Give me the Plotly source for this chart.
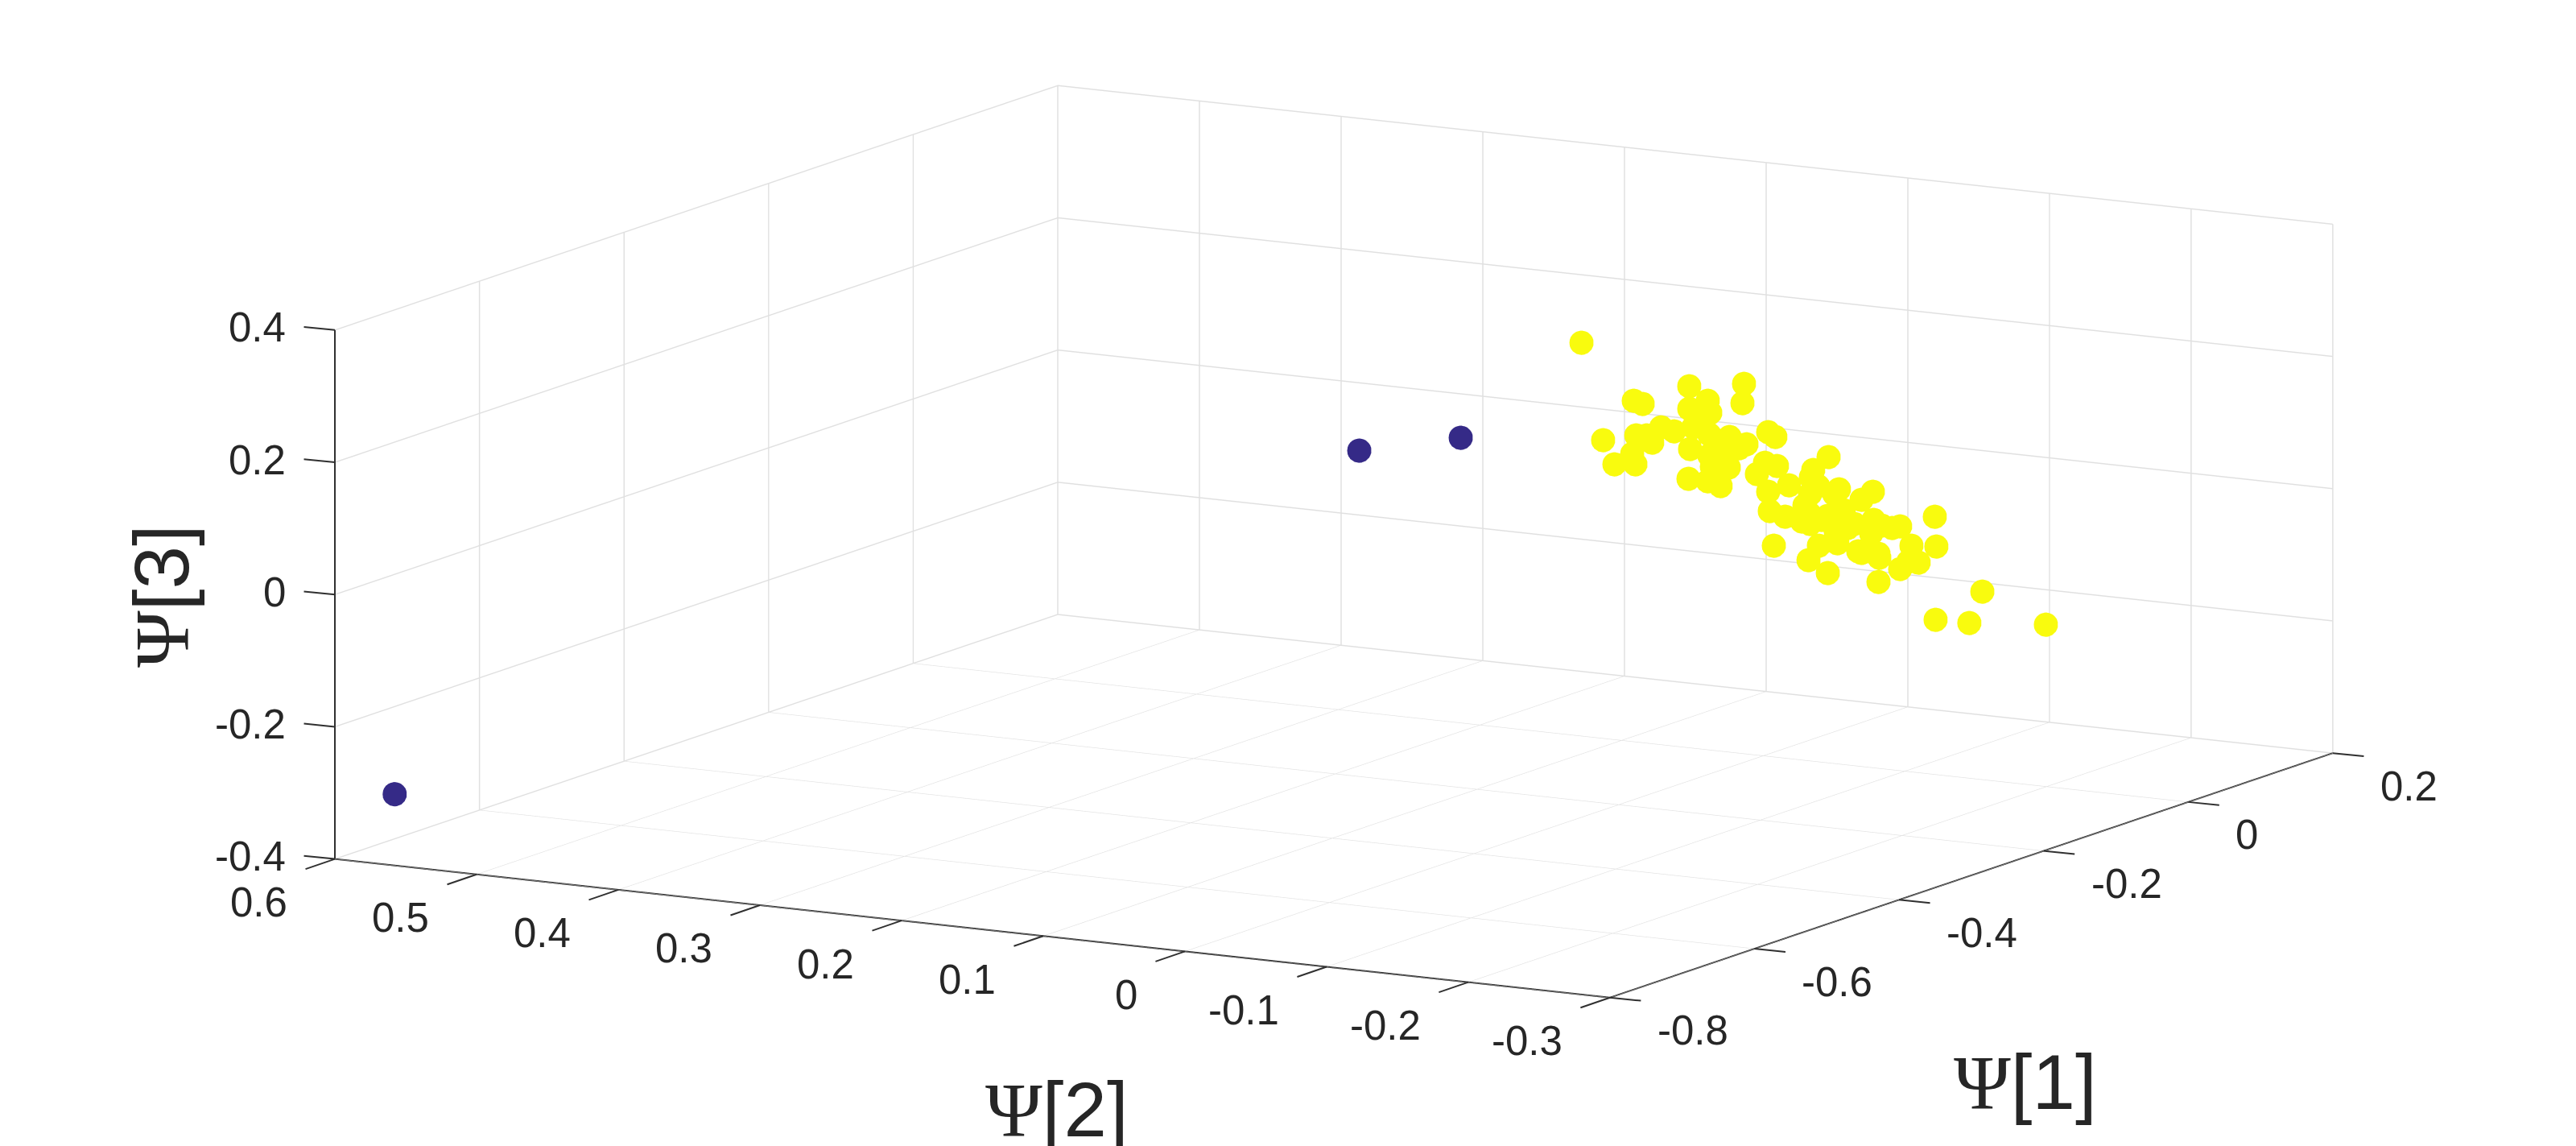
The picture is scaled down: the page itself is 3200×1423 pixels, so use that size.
import plotly.graph_objects as go

# Embedding coordinates of the two groups
group_a_psi1 = [-0.75, -0.5, -0.45]
group_a_psi2 = [0.5835, 0.0302, -0.0159]
group_a_psi3 = [-0.316, 0.2401, 0.2518]

group_b_psi1 = [-.368,-.301,-.3355,-.33,-.2895,-.301,-.288,-.267,-.268,-.252,-.2475,-.2985,-.3185,-.3105,-.334,-.3275,-.324,-.3545,-.3365,-.3475,-.3345,-.3005,-.2885,-.276,-.2825,-.27,-.2655,-.2885,-.3015,-.2895,-.2815,-.287,-.2765,-.254,-.2465,-.259,-.239,-.252,-.251,-.2415,-.2485,-.2145,-.224,-.2255,-.221,-.226,-.2295,-.208,-.211,-.187,-.194,-.205,-.219,-.226,-.231,-.2265,-.1865,-.1815,-.175,-.17,-.1985,-.21,-.188,-.209,-.2205,-.227,-.215,-.196,-.194,-.1835,-.183,-.163,-.17,-.165,-.1585,-.1835,-.1485,-.1475,-.119,-.148,-.127,-.0795,-.215,-.2025,-.28]
group_b_psi2 = [-.0593,-.1012,-.0796,-.0831,-.1084,-.1012,-.1094,-.1225,-.1219,-.1319,-.1347,-.1028,-.0903,-.0953,-.0806,-.0846,-.0868,-.0677,-.079,-.0721,-.0803,-.1015,-.109,-.1169,-.1128,-.1206,-.1235,-.109,-.1009,-.1084,-.1134,-.11,-.1166,-.1306,-.1353,-.1275,-.14,-.1319,-.1325,-.1385,-.1341,-.1554,-.1494,-.1485,-.1513,-.1482,-.146,-.1594,-.1576,-.1726,-.1682,-.1613,-.1526,-.1482,-.1451,-.1479,-.1729,-.176,-.1801,-.1832,-.1654,-.1582,-.172,-.1588,-.1516,-.1476,-.1551,-.1669,-.1682,-.1748,-.1751,-.1876,-.1832,-.1864,-.1904,-.1748,-.1967,-.1973,-.2152,-.197,-.2101,-.2399,-.1551,-.1629,-.1144]
group_b_psi3 = [.3753,.2945,.2803,.2742,.27,.2604,.2514,.2905,.2615,.2141,.2058,.2318,.2363,.2284,.2276,.2261,.2144,.2249,.2001,.1868,.1839,.1994,.2187,.2122,.2075,.1938,.1988,.187,.1546,.1482,.1391,.1696,.166,.1682,.1617,.1523,.1308,.124,.0945,.0839,.0416,.168,.1506,.1399,.1255,.1145,.0982,.1178,.1112,.1094,.0988,.0854,.074,.0694,.0742,.0853,.0667,.0571,.0519,.0532,.0633,.0536,.0463,.0364,.0353,.0149,-.0073,.0213,.0185,.0148,.0087,.0224,-.0113,-.0015,-.0042,-.0278,.063,.0177,-.0569,-.093,-.1026,-.1157,.0792,.0581,.1912]

psi1_ticks = [-0.8, -0.6, -0.4, -0.2, 0, 0.2]
psi2_ticks = [-0.3, -0.2, -0.1, 0, 0.1, 0.2, 0.3, 0.4, 0.5, 0.6]
psi3_ticks = [-0.4, -0.2, 0, 0.2, 0.4]
fmt = lambda t: "0" if t == 0 else f"{t:g}"

INK = "#262626"
TICK_FONT = dict(family="Liberation Sans", size=51, color=INK)


def axis(rng, ticks):
    return dict(
        range=rng, tickvals=ticks, showticklabels=False,
        title=dict(text=""),
        showgrid=True, gridcolor="#e0e0e0", gridwidth=3,
        showline=True, linecolor="#303030", linewidth=4,
        ticks="",
        showbackground=False, zeroline=False, showspikes=False,
        autorange=False,
    )


def tick_label(x, y, z, value, anchor, xshift, yshift):
    # Horizontal tick text tied to its position in data space
    return dict(
        x=x, y=y, z=z, text=fmt(value), showarrow=False, font=TICK_FONT,
        xanchor=anchor, yanchor="middle", xshift=xshift, yshift=yshift,
    )


def tick_mark(x, y, z, ax, ay):
    # Short outward tick drawn from the axis position
    return dict(
        x=x, y=y, z=z, text="", showarrow=True, arrowhead=0, standoff=0,
        arrowwidth=2, arrowcolor="#303030", ax=ax, ay=ay,
    )


scene_notes = (
    [tick_label(-0.8, 0.6, t, t, "right", -59, 3) for t in psi3_ticks]
    + [tick_label(-0.8, t, -0.4, t, "right", -57, -54) for t in psi2_ticks]
    + [tick_label(t, -0.3, -0.4, t, "left", 57, -41) for t in psi1_ticks]
    + [tick_mark(-0.8, 0.6, t, -40, -4) for t in psi3_ticks]
    + [tick_mark(-0.8, t, -0.4, -38, 13) for t in psi2_ticks]
    + [tick_mark(t, -0.3, -0.4, 40, 4) for t in psi1_ticks]
)


def title(text, x, y, angle=0):
    return dict(
        text=f'<span style="font-family:Liberation Serif">Ψ</span>[{text}]',
        x=x / 3200, y=1 - y / 1423, xref="paper", yref="paper",
        xanchor="center", yanchor="middle", textangle=angle, showarrow=False,
        font=dict(family="Liberation Sans", size=96, color=INK),
    )


fig = go.Figure()
fig.add_trace(go.Scatter3d(
    x=group_a_psi1, y=group_a_psi2, z=group_a_psi3, mode="markers",
    marker=dict(size=17.5, color="#352a87", line=dict(width=0), opacity=1),
))
fig.add_trace(go.Scatter3d(
    x=group_b_psi1, y=group_b_psi2, z=group_b_psi3, mode="markers",
    marker=dict(size=17.5, color="#f9fb0e", line=dict(width=0), opacity=1),
))

R = 5.0
cx, cy, cz = -0.0486, 0.0645, -0.0538
fig.update_layout(
    width=3200, height=1423, margin=dict(l=0, r=0, t=0, b=0),
    paper_bgcolor="white", showlegend=False,
    scene=dict(
        domain=dict(x=[0, 1], y=[0, 1]),
        aspectmode="manual", aspectratio=dict(x=2.559, y=2.559, z=0.9405),
        xaxis=axis([-0.8, 0.2], psi1_ticks),
        yaxis=axis([-0.3, 0.6], psi2_ticks),
        zaxis=axis([-0.4, 0.4], psi3_ticks),
        camera=dict(
            projection=dict(type="orthographic"),
            up=dict(x=0, y=0, z=1),
            center=dict(x=cx, y=cy, z=cz),
            eye=dict(x=cx - 0.8538 * R, y=cy - 0.4841 * R, z=cz + 0.1917 * R),
        ),
        annotations=scene_notes,
    ),
    annotations=[
        title("3", 201, 740, -90),
        title("2", 1313, 1378),
        title("1", 2516, 1344),
    ],
)
fig.write_html("out.html")
